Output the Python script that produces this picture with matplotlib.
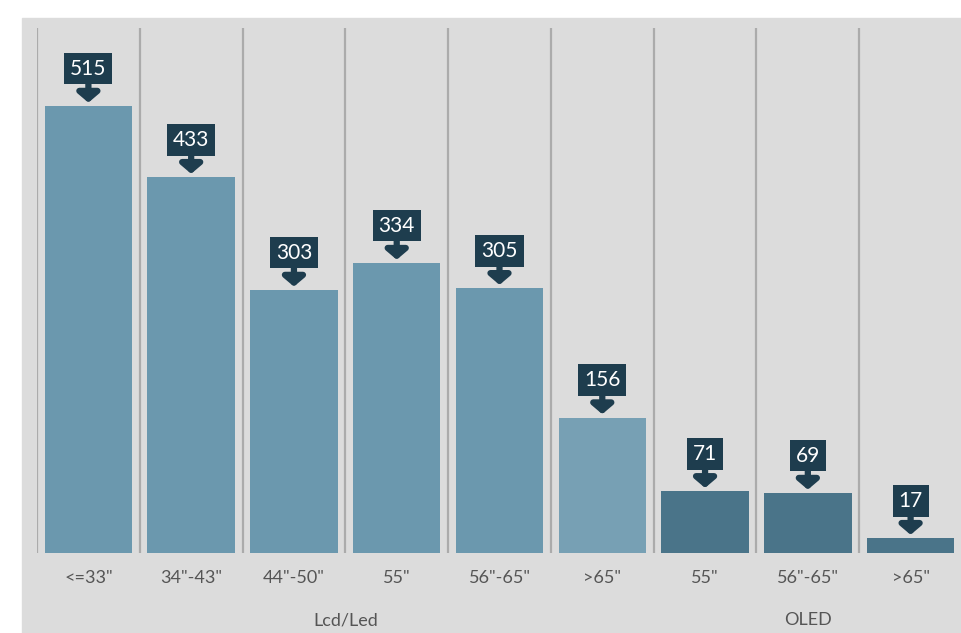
import matplotlib
matplotlib.use("Agg")
import matplotlib.pyplot as plt
from matplotlib.patches import Rectangle

categories = ['<=33"', '34"-43"', '44"-50"', '55"', '56"-65"', '>65"', '55"', '56"-65"', '>65"']
values = [515, 433, 303, 334, 305, 156, 71, 69, 17]
groups = ['Lcd/Led', 'Lcd/Led', 'Lcd/Led', 'Lcd/Led', 'Lcd/Led', 'Lcd/Led', 'OLED', 'OLED', 'OLED']
bar_colors = ['#6b98ae', '#6b98ae', '#6b98ae', '#6b98ae', '#6b98ae', '#77a0b4',
              '#4a7489', '#4a7489', '#4a7489']

plt.rcParams['font.family'] = ['Lato', 'DejaVu Sans']

W, H = 962, 633
fig = plt.figure(figsize=(W / 100, H / 100), dpi=100)
fig.patch.set_facecolor('white')
bg = Rectangle((22 / W, 0), 1 - 22 / W, (H - 18) / H,
               transform=fig.transFigure, color='#dcdcdc', zorder=-10)
fig.patches.append(bg)

ax = fig.add_axes([37 / W, (H - 553) / H, (962 - 37) / W, (553 - 28) / H])
ax.set_zorder(1)
ax.set_facecolor('none')
x = list(range(len(values)))
ax.bar(x, values, width=0.85, color=bar_colors, zorder=2)
ax.set_xlim(-0.5, len(values) - 0.5)
ax.set_ylim(0, 605)

for b in range(len(values)):
    ax.axvline(b - 0.5, color='#ababab', lw=1.6, zorder=1)

for s in ax.spines.values():
    s.set_visible(False)
ax.set_yticks([])
ax.set_xticks(x)
ax.set_xticklabels(categories, fontsize=13, color='#555555')
ax.tick_params(axis='x', length=0, pad=12)

dark = '#1e3d4e'
for i, v in enumerate(values):
    ax.annotate('', xy=(i, v), xytext=(0, 16), textcoords='offset points',
                arrowprops=dict(arrowstyle='-|>,head_width=0.65,head_length=0.55',
                                color=dark, lw=4.5, shrinkA=0, shrinkB=2.5,
                                mutation_scale=10), zorder=4)
    ax.annotate(str(v), xy=(i, v), xytext=(0, 27), textcoords='offset points',
                ha='center', va='center', fontsize=15, color='white',
                bbox=dict(boxstyle='square,pad=0.28', fc=dark, ec='none'), zorder=5)

# group labels
group_names = []
for g in groups:
    if g not in group_names:
        group_names.append(g)
for g in group_names:
    idx = [i for i, gg in enumerate(groups) if gg == g]
    xc = (idx[0] + idx[-1]) / 2
    ax.annotate(g, xy=(xc, 0), xycoords=('data', 'axes fraction'),
                xytext=(0, -(620 - 553) * 0.72), textcoords='offset points',
                ha='center', va='center', fontsize=13, color='#555555',
                annotation_clip=False)

fig.savefig('out.png', dpi=100, facecolor=fig.get_facecolor())
